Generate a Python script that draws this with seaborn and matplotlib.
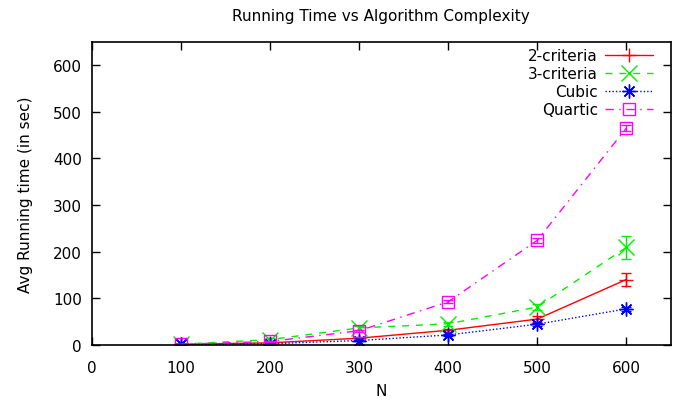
import numpy as np
import pandas as pd
import seaborn as sns
from matplotlib import pyplot as plt

# values
n_values = [100, 200, 300, 400, 500, 600]
series_names = ["2-criteria", "3-criteria", "Cubic", "Quartic"]
crit2_time = [1, 4, 14, 31, 55, 140]
crit2_err = [0.5, 1, 2, 3, 6, 13]
crit3_time = [1, 11, 36, 45, 81, 209]
crit3_err = [0.5, 3, 5, 4, 6, 25]
cubic_time = [0.5, 2, 9, 21, 44, 77]
cubic_err = [0.2, 0.5, 1, 2, 3, 4]
quartic_time = [1, 7, 30, 92, 224, 465]
quartic_err = [0.5, 1, 2, 3, 5, 6]

times = [crit2_time, crit3_time, cubic_time, quartic_time]
errs = [crit2_err, crit3_err, cubic_err, quartic_err]

colors = ["#ff0000", "#00ee00", "#0000ff", "#ff00ff"]
markers = ["+", "x", (8, 2, 0), "s"]
marker_sizes = [10, 11, 10, 9]
dashes = [None, (5, 5), (1, 1.5), (6, 4, 1, 4)]

sns.set_style("ticks")
plt.rcParams["font.family"] = ["DejaVu Sans"]
plt.rcParams["text.color"] = "black"
plt.rcParams["axes.labelcolor"] = "black"
plt.rcParams["xtick.color"] = "black"
plt.rcParams["ytick.color"] = "black"

fig, ax = plt.subplots(figsize=(6.79, 4.02), dpi=100)

for name, t, e, c, m, ms, d in zip(series_names, times, errs, colors, markers,
                                   marker_sizes, dashes):
    df = pd.DataFrame({"N": n_values, "time": t})
    ls = "-" if d is None else (0, d)
    sns.lineplot(data=df, x="N", y="time", color=c, marker=m, markersize=ms,
                 markeredgewidth=1, markeredgecolor=c, fillstyle="none",
                 linewidth=1, linestyle=ls, label=name, ax=ax)
    ax.errorbar(n_values, t, yerr=e, fmt="none", ecolor=c, elinewidth=1,
                capsize=3.6, capthick=1)

ax.set_xlim(0, 650)
ax.set_ylim(0, 650)
ax.set_xticks(np.arange(0, 700, 100))
ax.set_yticks(np.arange(0, 700, 100))
ax.tick_params(direction="in", top=True, right=True, length=6, width=1, labelsize=11)
ax.tick_params(axis="x", pad=11)
ax.tick_params(axis="y", pad=7)
for s in ax.spines.values():
    s.set_linewidth(1.2)
    s.set_color("black")
ax.set_xlabel("N", fontsize=11, labelpad=6)
ax.set_ylabel("Avg Running time (in sec)", fontsize=11, labelpad=14)
ax.set_title("Running Time vs Algorithm Complexity", fontsize=11, pad=16)

ax.legend(loc="upper right", bbox_to_anchor=(0.99, 1.02), frameon=False,
          markerfirst=False, fontsize=11, handlelength=3.1, labelspacing=0.2,
          borderaxespad=0.4, handletextpad=0.5)

fig.subplots_adjust(left=0.135, right=0.988, top=0.893, bottom=0.14)
fig.savefig("out.png", dpi=100)
